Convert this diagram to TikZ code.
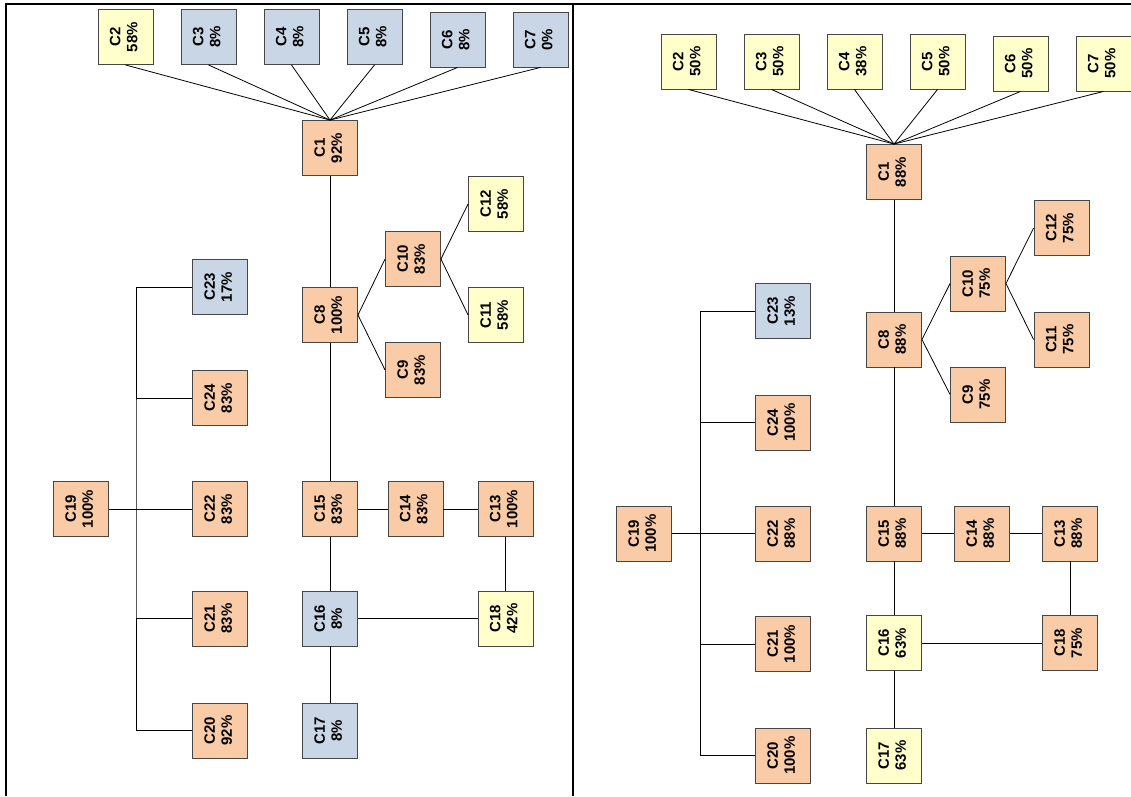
\documentclass[tikz,border=0pt]{standalone}
\usepackage{fontspec}
\setmainfont{Liberation Sans}
\usepackage{graphicx}
\usepackage{xcolor}

\definecolor{hifill}{RGB}{249,203,167}
\definecolor{midfill}{RGB}{255,255,204}
\definecolor{lowfill}{RGB}{201,214,229}
\definecolor{boxline}{RGB}{70,70,70}

\newcommand{\lbl}[2]{\rotatebox{90}{\begin{tabular}{@{}c@{}}#1\\#2\end{tabular}}}

\begin{document}
\begin{tikzpicture}[x=1pt, y=-1pt,
  cell/.style={draw=boxline, line width=0.9pt, minimum width=55pt, minimum height=55pt,
    inner sep=0pt, font=\bfseries\fontsize{15}{17}\selectfont},
  hibox/.style={cell, fill=hifill},
  midbox/.style={cell, fill=midfill},
  lowbox/.style={cell, fill=lowfill},
  link/.style={draw=black, line width=0.8pt}]

\useasboundingbox (0,0) rectangle (1131,796);

% Frame
\draw[line width=2pt] (5,4) -- (1131,4);
\draw[line width=2pt] (6,4) -- (6,796);
\draw[line width=2pt] (573,4) -- (573,796);

% ---------- Left panel ----------
% Top row
\node[midbox] (L2) at (125.5,37) {\lbl{C2}{58\%}};
\node[lowbox] (L3) at (208.5,37) {\lbl{C3}{8\%}};
\node[lowbox] (L4) at (291.5,37) {\lbl{C4}{8\%}};
\node[lowbox] (L5) at (374.5,37) {\lbl{C5}{8\%}};
\node[lowbox] (L6) at (457.5,39.5) {\lbl{C6}{8\%}};
\node[lowbox] (L7) at (540.5,39.5) {\lbl{C7}{0\%}};
\node[hibox] (L1) at (330,148) {\lbl{C1}{92\%}};

% Middle branch
\node[hibox] (L8) at (330,315) {\lbl{C8}{100\%}};
\node[hibox] (L10) at (413,259) {\lbl{C10}{83\%}};
\node[midbox] (L12) at (496,204) {\lbl{C12}{58\%}};
\node[midbox] (L11) at (496,315) {\lbl{C11}{58\%}};
\node[hibox] (L9) at (413,370) {\lbl{C9}{83\%}};

% Lower block
\node[hibox] (L15) at (330,509) {\lbl{C15}{83\%}};
\node[hibox] (L14) at (415.5,509) {\lbl{C14}{83\%}};
\node[hibox] (L13) at (505.5,509) {\lbl{C13}{100\%}};
\node[lowbox] (L16) at (330,618.5) {\lbl{C16}{8\%}};
\node[midbox] (L18) at (505.5,618.5) {\lbl{C18}{42\%}};
\node[lowbox] (L17) at (330,730.5) {\lbl{C17}{8\%}};

% Left column
\node[hibox] (L19) at (81,509) {\lbl{C19}{100\%}};
\node[lowbox] (L23) at (220,287) {\lbl{C23}{17\%}};
\node[hibox] (L24) at (220,398) {\lbl{C24}{83\%}};
\node[hibox] (L22) at (220,509) {\lbl{C22}{83\%}};
\node[hibox] (L21) at (220,618.5) {\lbl{C21}{83\%}};
\node[hibox] (L20) at (220,730.5) {\lbl{C20}{92\%}};
\coordinate (Ltrunk) at (136,509);

% Links
\foreach \n in {2,...,7}
  \draw[link] (L\n.south) -- (L1.north);
\draw[link] (L1) -- (L8);
\draw[link] (L8.east) -- (L10.west);
\draw[link] (L8.east) -- (L9.west);
\draw[link] (L10.east) -- (L12.west);
\draw[link] (L10.east) -- (L11.west);
\draw[link] (L8) -- (L15);
\draw[link] (L15) -- (L14);
\draw[link] (L14) -- (L13);
\draw[link] (L13) -- (L18);
\draw[link] (L15) -- (L16);
\draw[link] (L16) -- (L18);
\draw[link] (L16) -- (L17);
\draw[link] (L19) -- (L22);
\draw[link] (L23.west) -| (Ltrunk) |- (L20.west);
\draw[link] (Ltrunk |- L24) -- (L24.west);
\draw[link] (Ltrunk |- L21) -- (L21.west);

% ---------- Right panel ----------
% Top row
\node[midbox] (R2) at (688.5,61.5) {\lbl{C2}{50\%}};
\node[midbox] (R3) at (771.5,61.5) {\lbl{C3}{50\%}};
\node[midbox] (R4) at (854.5,61.5) {\lbl{C4}{38\%}};
\node[midbox] (R5) at (937.5,61.5) {\lbl{C5}{50\%}};
\node[midbox] (R6) at (1020.5,63.5) {\lbl{C6}{50\%}};
\node[midbox] (R7) at (1103.5,63.5) {\lbl{C7}{50\%}};
\node[hibox] (R1) at (894,172) {\lbl{C1}{88\%}};

% Middle branch
\node[hibox] (R8) at (894,339.5) {\lbl{C8}{88\%}};
\node[hibox] (R10) at (978,283.5) {\lbl{C10}{75\%}};
\node[hibox] (R12) at (1061.5,228) {\lbl{C12}{75\%}};
\node[hibox] (R11) at (1061.5,339.5) {\lbl{C11}{75\%}};
\node[hibox] (R9) at (978,394.5) {\lbl{C9}{75\%}};

% Lower block
\node[hibox] (R15) at (894,533.5) {\lbl{C15}{88\%}};
\node[hibox] (R14) at (982,533.5) {\lbl{C14}{88\%}};
\node[hibox] (R13) at (1070,533.5) {\lbl{C13}{88\%}};
\node[midbox] (R16) at (894,643) {\lbl{C16}{63\%}};
\node[hibox] (R18) at (1070,643) {\lbl{C18}{75\%}};
\node[midbox] (R17) at (894,755.5) {\lbl{C17}{63\%}};

% Left column
\node[hibox] (R19) at (644,533.5) {\lbl{C19}{100\%}};
\node[lowbox] (R23) at (783,311) {\lbl{C23}{13\%}};
\node[hibox] (R24) at (783,422.5) {\lbl{C24}{100\%}};
\node[hibox] (R22) at (783,533.5) {\lbl{C22}{88\%}};
\node[hibox] (R21) at (783,644) {\lbl{C21}{100\%}};
\node[hibox] (R20) at (783,755.5) {\lbl{C20}{100\%}};
\coordinate (Rtrunk) at (700,533.5);

% Links
\foreach \n in {2,...,7}
  \draw[link] (R\n.south) -- (R1.north);
\draw[link] (R1) -- (R8);
\draw[link] (R8.east) -- (R10.west);
\draw[link] (R8.east) -- (R9.west);
\draw[link] (R10.east) -- (R12.west);
\draw[link] (R10.east) -- (R11.west);
\draw[link] (R8) -- (R15);
\draw[link] (R15) -- (R14);
\draw[link] (R14) -- (R13);
\draw[link] (R13) -- (R18);
\draw[link] (R15) -- (R16);
\draw[link] (R16) -- (R18);
\draw[link] (R16) -- (R17);
\draw[link] (R19) -- (R22);
\draw[link] (R23.west) -| (Rtrunk) |- (R20.west);
\draw[link] (Rtrunk |- R24) -- (R24.west);
\draw[link] (Rtrunk |- R21) -- (R21.west);

\end{tikzpicture}
\end{document}
